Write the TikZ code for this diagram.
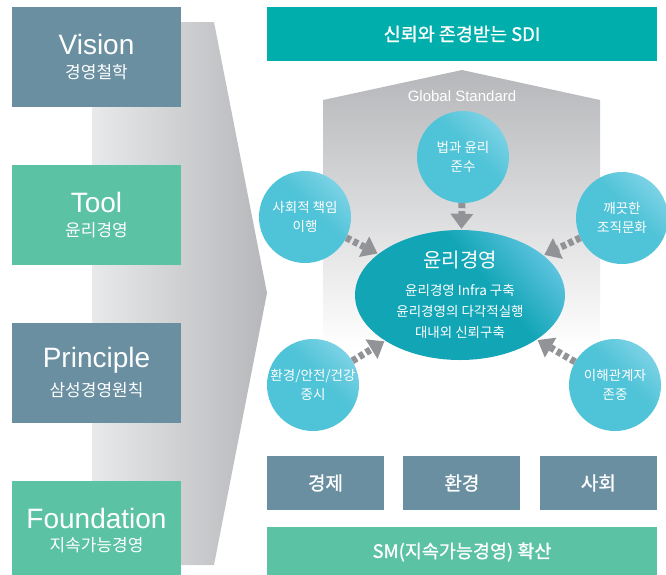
\documentclass[tikz,border=0pt]{standalone}
\usepackage{fontspec}
\setmainfont{Noto Sans CJK KR}
\newfontfamily\latinfont{Liberation Sans}
\newfontfamily\heavyfont[FakeBold=1]{Noto Sans CJK KR}
\usetikzlibrary{arrows.meta,positioning,shapes.geometric}

\definecolor{slate}{HTML}{6A8FA1}
\definecolor{mint}{HTML}{5BC2A3}
\definecolor{sditeal}{HTML}{00AFAC}
\definecolor{ballblue}{HTML}{4FC3D7}
\definecolor{balllight}{HTML}{86D5E8}
\definecolor{coredark}{HTML}{11A5B6}
\definecolor{corelight}{HTML}{6CC9E6}
\definecolor{funlight}{HTML}{E8E9EA}
\definecolor{fundark}{HTML}{B6B7BA}
\definecolor{arrgray}{HTML}{929396}

\pgfdeclareverticalshading{ballglow}{100bp}{color(0bp)=(ballblue); color(55bp)=(ballblue); color(80bp)=(balllight); color(100bp)=(balllight)}
\pgfdeclareverticalshading{coreglow}{100bp}{color(0bp)=(coredark); color(58bp)=(coredark); color(80bp)=(corelight); color(100bp)=(corelight)}

\begin{document}
\begin{tikzpicture}[x=1pt,y=-1pt,node distance=57.5pt,
    pillar/.style={rectangle,minimum width=169pt,minimum height=100pt,inner sep=0pt,text=white,align=center},
    band/.style={rectangle,minimum width=390pt,inner sep=0pt,text=white,font=\heavyfont\fontsize{18.5}{22}\selectfont},
    base/.style={rectangle,fill=slate,minimum width=117pt,minimum height=54pt,inner sep=0pt,text=white,font=\heavyfont\fontsize{19}{22}\selectfont},
    ball/.style={circle,minimum size=92pt,inner sep=0pt,text=white,align=center,
        shading=ballglow,shading angle=-45,font=\fontsize{13.5}{19}\selectfont},
    arr/.style={draw=arrgray,line width=7pt,dash pattern=on 5pt off 3pt,
        -{Triangle[length=15pt 0 0,width=23pt 0 0,line width=0pt 0 0,fill=arrgray]},shorten >=1pt}]

    \useasboundingbox (0,0) rectangle (666,574);

    % funnel behind the left column
    \shade[left color=funlight,right color=fundark]
        (92,22) -- (214,22) -- (267,293) -- (214,565) -- (92,565) -- cycle;

    % left column
    \node[pillar,fill=slate] (vision) at (96.5,57)
        {{\latinfont\fontsize{28}{30}\selectfont Vision}\\[8pt]{\fontsize{17}{20}\selectfont 경영철학}};
    \node[pillar,fill=mint] (tool) [below=of vision]
        {{\latinfont\fontsize{28}{30}\selectfont Tool}\\[8pt]{\fontsize{17}{20}\selectfont 윤리경영}};
    \node[pillar,fill=slate] (principle) [below=of tool]
        {{\latinfont\fontsize{28}{30}\selectfont Principle}\\[8pt]{\fontsize{17}{20}\selectfont 삼성경영원칙}};
    \node[pillar,fill=mint] (foundation) [below=of principle]
        {{\latinfont\fontsize{28}{30}\selectfont Foundation}\\[8pt]{\fontsize{17}{20}\selectfont 지속가능경영}};

    % right side
    \node[band,fill=sditeal,minimum height=54pt] (goal) at (462,34) {신뢰와 존경받는 SDI};

    \shade[top color=fundark,bottom color=white]
        (323,100) -- (462,70) -- (600,100) -- (600,348) -- (323,348) -- cycle;
    \node[text=white,font=\latinfont\fontsize{15}{17}\selectfont] (global) at (462,96) {Global Standard};

    \node[ellipse,minimum width=210pt,minimum height=130pt,inner sep=0pt,text=white,align=center,
        shading=coreglow,shading angle=-50,font=\fontsize{13.5}{21}\selectfont] (core) at (460,295)
        {{\fontsize{20}{22}\selectfont 윤리경영}\\[7pt]윤리경영 Infra 구축\\윤리경영의 다각적실행\\대내외 신뢰구축};

    \node[ball] (law) at (463,157) {법과 윤리\\준수};
    \node[ball] (social) at (305,217) {사회적 책임\\이행};
    \node[ball] (clean) at (622,218) {깨끗한\\조직문화};
    \node[ball] (safety) at (313,385) {환경/안전/건강\\중시};
    \node[ball] (stake) at (615,385) {이해관계자\\존중};

    \path[arr] (law) edge (core)
               (social) edge (core)
               (clean) edge (core)
               (safety) edge (core)
               (stake) edge (core);

    \node[base] (econ) at (325.5,483) {경제};
    \node[base] (env) [right=19pt of econ] {환경};
    \node[base] (soc) [right=19pt of env] {사회};

    \node[band,fill=mint,minimum height=50pt] (sm) at (462,552) {SM(지속가능경영) 확산};
\end{tikzpicture}
\end{document}
